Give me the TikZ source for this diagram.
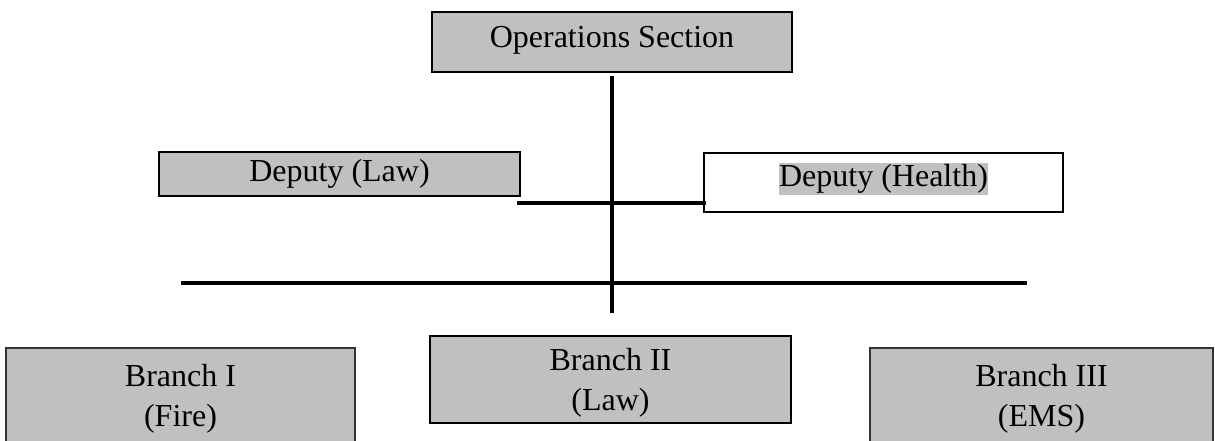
\documentclass[tikz,border=0pt]{standalone}
\usepackage{fontspec}
\setmainfont{Liberation Serif}
\definecolor{boxgray}{HTML}{C0C0C0}
\begin{document}
\begin{tikzpicture}[x=0.75pt, y=-0.75pt,
  unit/.style={draw=black, fill=boxgray, line width=1.6pt, inner sep=0pt, outer sep=0pt},
  plainunit/.style={draw=black, fill=white, line width=1.6pt, inner sep=0pt, outer sep=0pt},
  branchunit/.style={draw=black!80, fill=boxgray, line width=0.8pt, inner sep=0pt, outer sep=0pt},
  lbl/.style={inner sep=0pt, anchor=base, font=\fontsize{24}{30}\selectfont},
  link/.style={black, line width=2.5pt}]
\useasboundingbox (0,0) rectangle (1215,441);
\clip (0,0) rectangle (1215,441);

% section chief
\node[unit, minimum width=270pt, minimum height=45pt] (ops) at (612,42) {};
\node[lbl] (opsT) at (612,48) {Operations Section};

% deputies
\node[unit, minimum width=270.75pt, minimum height=33pt] (law) at (339.5,174) {};
\node[lbl] (lawT) at (339.5,182) {Deputy (Law)};
\node[plainunit, minimum width=269.25pt, minimum height=44.25pt] (health) at (883.5,182.5) {};
\node[lbl, fill=boxgray, text height=18pt, text depth=6pt] (healthT) at (883.5,187) {Deputy (Health)};

% branches
\node[branchunit, minimum width=261.75pt, minimum height=75pt] (b1) at (180.5,398) {};
\node[lbl] (b1a) at (180.5,387) {Branch I};
\node[lbl] (b1b) at (180.5,427) {(Fire)};
\node[unit, line width=1.9pt, minimum width=270.75pt, minimum height=65.25pt] (b2) at (610.5,379.5) {};
\node[lbl] (b2a) at (610.5,371) {Branch II};
\node[lbl] (b2b) at (610.5,411) {(Law)};
\node[branchunit, minimum width=257.25pt, minimum height=75pt] (b3) at (1041.5,398) {};
\node[lbl] (b3a) at (1041.5,387) {Branch III};
\node[lbl] (b3b) at (1041.5,427) {(EMS)};

% connector ends
\coordinate (trunkTop) at (612,76);
\coordinate (trunkBot) at (612,313);
\coordinate (depL) at (517,203);
\coordinate (depR) at (706,203);
\coordinate (brL) at (181,283);
\coordinate (brR) at (1027,283);

% connectors
\draw[link] (trunkTop) -- (trunkBot);
\draw[link, line width=2.7pt] (depL) -- (depR);
\draw[link, line width=3.4pt] (brL) -- (brR);
\end{tikzpicture}
\end{document}
